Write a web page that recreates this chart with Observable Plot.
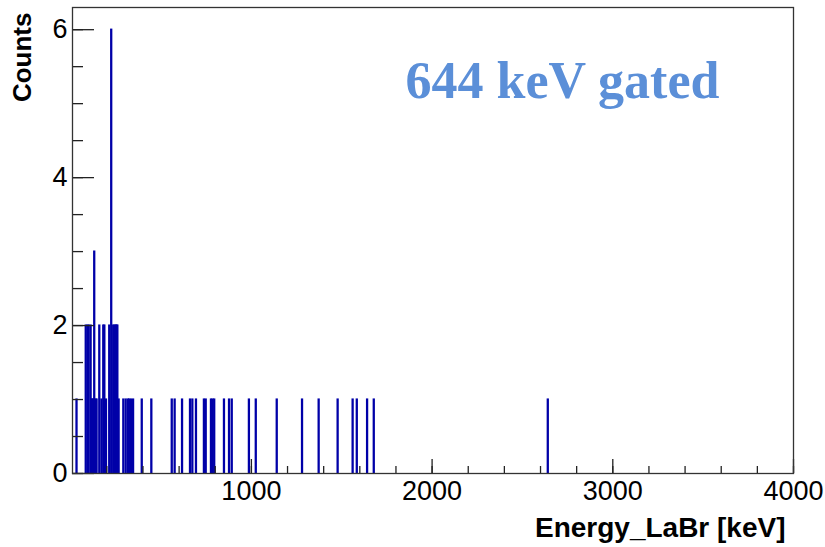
<!DOCTYPE html>
<html>
<head>
<meta charset="utf-8">
<script src="https://cdn.jsdelivr.net/npm/d3@7"></script>
<script src="https://cdn.jsdelivr.net/npm/@observablehq/plot@0.6"></script>
<style>
  html, body { margin: 0; padding: 0; background: #fff; }
  #chart svg { display: block; }
</style>
</head>
<body>
<div id="chart"></div>
<script>
// Histogram bins (energy in keV, counts)
const energies = [35, 86, 96, 102, 113, 118, 123, 129, 133, 140, 146, 161, 173, 183, 189, 198, 216, 227,
  238, 245, 251, 256, 261, 268, 294, 307, 319, 326, 336, 348, 396, 449, 562, 578, 619, 663, 676, 696,
  740, 750, 779, 788, 797, 851, 879, 894, 989, 1027, 1143, 1283, 1375, 1480, 1563, 1586, 1643, 1680, 2643];
const counts = [1, 2, 2, 2, 2, 1, 1, 1, 3, 1, 1, 2, 1, 2, 2, 1, 2, 6,
  2, 2, 2, 2, 2, 1, 1, 1, 1, 1, 1, 1, 1, 1, 1, 1, 1, 1, 1, 1,
  1, 1, 1, 1, 1, 1, 1, 1, 1, 1, 1, 1, 1, 1, 1, 1, 1, 1, 1];
const binWidth = 6;

const xTickLabels = [1000, 2000, 3000, 4000];
const xMinorTicks = d3.range(200, 4001, 200);
const yTickLabels = [0, 2, 4, 6];
const yMinorTicks = d3.range(0, 6.01, 0.5);

const titleText = "644 keV gated";
const xLabel = "Energy_LaBr [keV]";
const yLabel = "Counts";

const bins = energies.map((e, i) => ({e, c: counts[i]}));

const W = 825, H = 547;
const mL = 72, mR = 32, mT = 7, mB = 74;
const fw = W - mL - mR, fh = H - mT - mB;

const chart = Plot.plot({
  width: W, height: H,
  marginLeft: mL, marginRight: mR, marginTop: mT, marginBottom: mB,
  style: {fontFamily: "'Liberation Sans', Arial, sans-serif", background: "#fff", color: "#000"},
  x: {domain: [10, 4000]},
  y: {domain: [0, 6.3]},
  marks: [
    Plot.rectY(bins, {x1: d => d.e - binWidth / 2, x2: d => d.e + binWidth / 2, y: "c",
      fill: "none", stroke: "#0000a8", strokeWidth: 1.2}),
    // inward ticks
    Plot.tickX(xMinorTicks, {x: d => d, insetTop: fh - 7, stroke: "#222", strokeWidth: 1.3}),
    Plot.tickX(xTickLabels, {x: d => d, insetTop: fh - 14, stroke: "#222", strokeWidth: 1.3}),
    Plot.tickY(yMinorTicks, {y: d => d, insetRight: fw - 11, stroke: "#222", strokeWidth: 1.3}),
    Plot.tickY(yTickLabels, {y: d => d, insetRight: fw - 22, stroke: "#222", strokeWidth: 1.3}),
    Plot.frame({stroke: "#333", strokeWidth: 1.3}),
    Plot.axisX({ticks: xTickLabels, tickSize: 0, tickPadding: 7, fontSize: 27,
      tickFormat: d3.format("d"), label: null}),
    Plot.axisY({ticks: yTickLabels, tickSize: 0, tickPadding: 5, fontSize: 27,
      tickFormat: d3.format("d"), label: null}),
    Plot.text([xLabel], {frameAnchor: "bottom-right", textAnchor: "end", lineAnchor: "middle",
      dx: -8, dy: 55, fontSize: 28, fontWeight: "bold", fill: "#000"}),
    Plot.text([yLabel], {frameAnchor: "top-left", textAnchor: "end", lineAnchor: "middle",
      rotate: -90, dx: -50, dy: 5, fontSize: 26, fontWeight: "bold", fill: "#000"}),
    Plot.text([titleText], {frameAnchor: "top-left", textAnchor: "start", lineAnchor: "top",
      dx: 333, dy: 54, fontSize: 52, fontWeight: "bold",
      fontFamily: "'Liberation Serif', 'Times New Roman', serif", fill: "#5b8fd8"})
  ]
});
document.getElementById("chart").appendChild(chart);
</script>
</body>
</html>
